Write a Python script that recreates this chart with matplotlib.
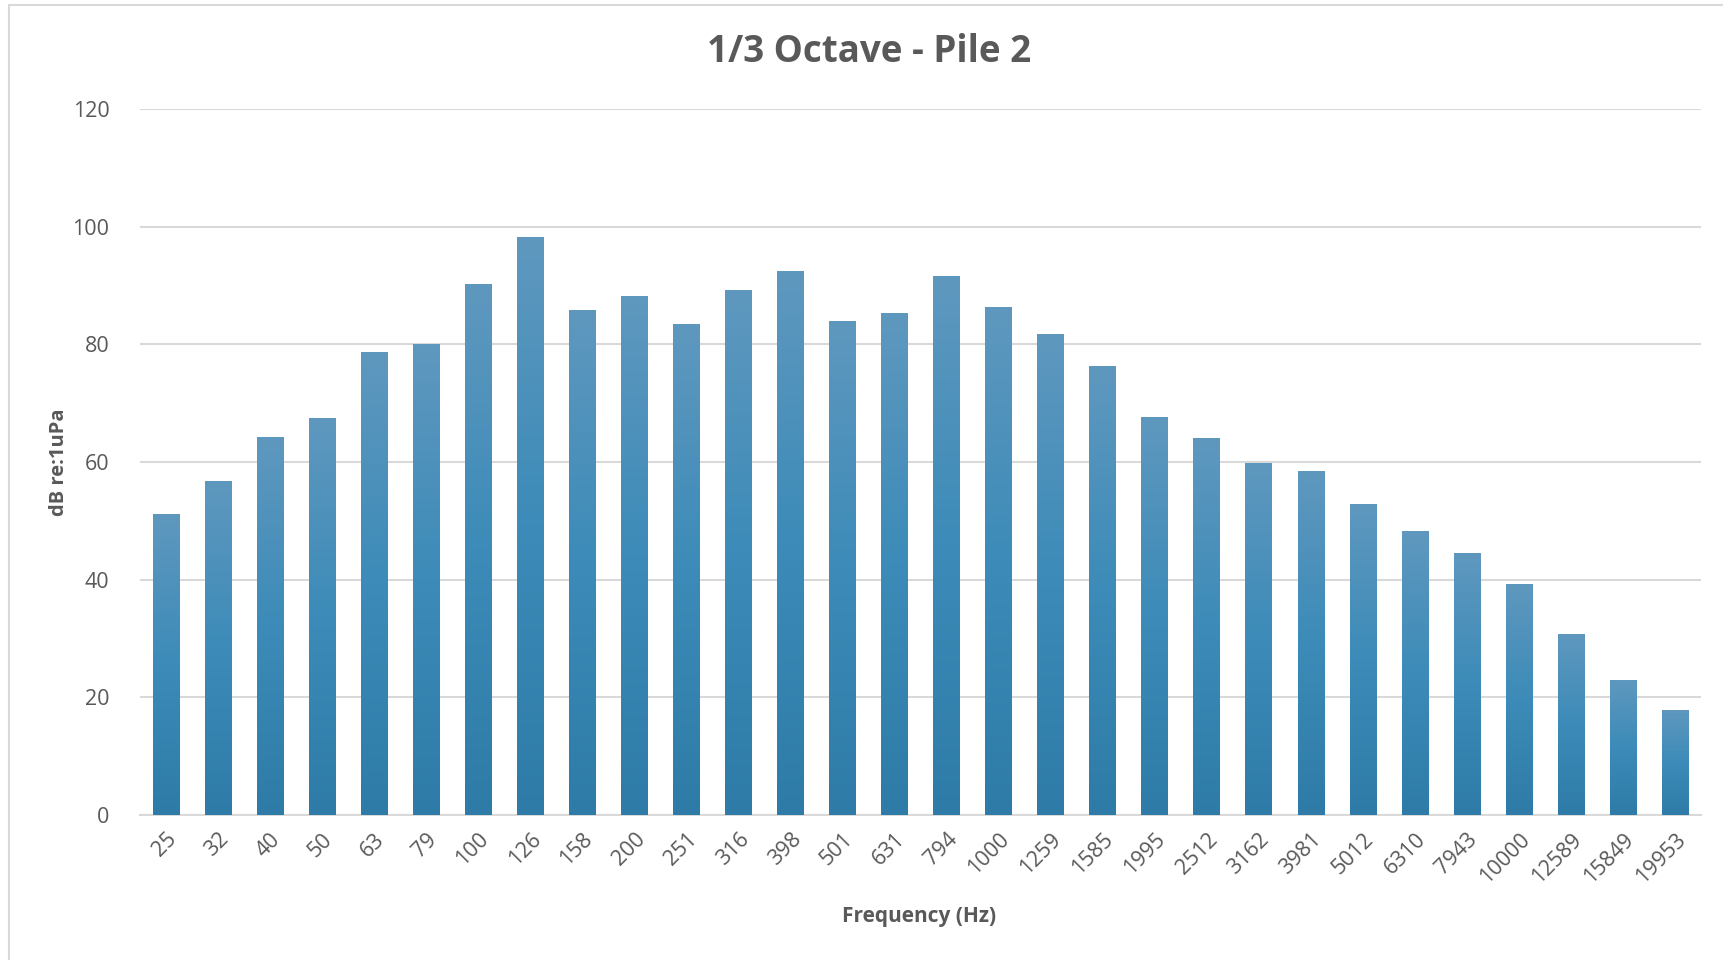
import matplotlib.pyplot as plt
import numpy as np
from matplotlib.colors import LinearSegmentedColormap
from matplotlib.patches import Rectangle

plt.rcParams['font.family'] = ['Open Sans', 'DejaVu Sans']

freqs = ["25", "32", "40", "50", "63", "79", "100", "126", "158", "200",
         "251", "316", "398", "501", "631", "794", "1000", "1259", "1585", "1995",
         "2512", "3162", "3981", "5012", "6310", "7943", "10000", "12589", "15849", "19953"]
levels = [51.2, 56.8, 64.3, 67.5, 78.7, 80.0, 90.3, 98.3, 85.8, 88.2,
          83.4, 89.2, 92.5, 83.9, 85.4, 91.6, 86.4, 81.7, 76.3, 67.7,
          64.1, 59.8, 58.5, 52.9, 48.2, 44.5, 39.3, 30.8, 23.0, 17.8]

TEXT = "#595959"
GRID = "#d9d9d9"

# excel style gradient, light at top, darker at bottom
grad = LinearSegmentedColormap.from_list("bar", ["#2e7ba7", "#3c8bb8", "#5f98bf"])

fig = plt.figure(figsize=(17.24, 9.6), dpi=100)
ax = fig.add_axes([0.0812, 0.151, 0.9055, 0.7355])

x = np.arange(len(freqs))
bars = ax.bar(x, levels, width=0.51, color="none", zorder=3)
img = np.linspace(0, 1, 256).reshape(-1, 1)
for b in bars:
    bx, by = b.get_x(), b.get_y()
    w, h = b.get_width(), b.get_height()
    im = ax.imshow(img, cmap=grad, origin="lower", aspect="auto",
                   extent=[bx, bx + w, by, by + h], zorder=3)
    im.set_clip_path(b)

ax.set_xlim(-0.5, len(freqs) - 0.5)
ax.set_ylim(0, 120)
ax.set_yticks(range(0, 121, 20))
ax.set_xticks(x)
ax.set_xticklabels(freqs, rotation=45, ha="right", rotation_mode="anchor")
ax.grid(axis="y", color=GRID, linewidth=1.5, zorder=0)
for s in ["top", "right", "left"]:
    ax.spines[s].set_visible(False)
ax.spines["bottom"].set_color(GRID)
ax.spines["bottom"].set_linewidth(1.5)
ax.tick_params(length=0, labelsize=15.5, colors=TEXT, pad=10)
ax.tick_params(axis="y", pad=22)

fig.text(0.533, 0.045, "Frequency (Hz)", ha="center", va="center",
         fontsize=15, fontweight="bold", color=TEXT)
fig.text(0.034, 0.518, "dB re:1uPa", ha="center", va="center", rotation=90,
         fontsize=14.5, fontweight="bold", color=TEXT)
fig.text(0.504, 0.946, "1/3 Octave - Pile 2", ha="center", va="center",
         fontsize=26.5, fontweight="bold", color=TEXT)

fig.patches.append(Rectangle((0.005, -0.01), 1.0, 1.005, transform=fig.transFigure,
                             fill=False, edgecolor="#d9d9d9", linewidth=1.5))

fig.savefig("out.png", dpi=100, facecolor="white")
